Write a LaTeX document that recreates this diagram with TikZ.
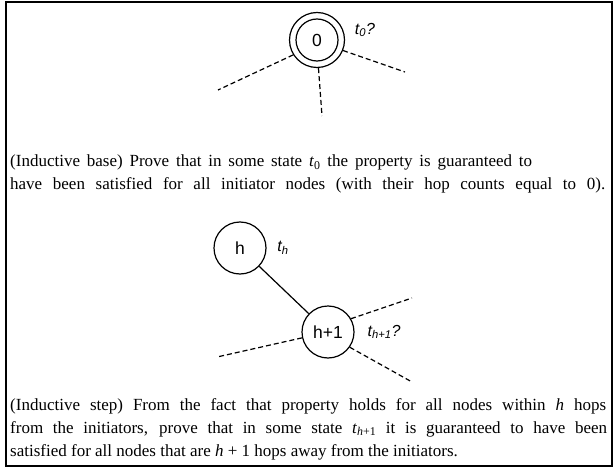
\documentclass[tikz,border=0pt]{standalone}
\usepackage{fontspec}
\setmainfont{Liberation Serif}
\newfontfamily\lsans{Liberation Sans}
\begin{document}
\begin{tikzpicture}[x=1pt,y=-1pt,
  circnode/.style={circle,draw,line width=1.2pt,minimum size=52pt,inner sep=0pt,font=\lsans\fontsize{17.5}{20}\selectfont},
  dashline/.style={dashed,dash pattern=on 5pt off 3pt,line width=1.2pt},
  solidline/.style={line width=1.2pt},
  lbl/.style={font=\lsans\itshape\fontsize{16}{18}\selectfont,inner sep=0pt},
  para/.style={anchor=base west,inner sep=0pt,font=\fontsize{17}{20}\selectfont}]
\useasboundingbox (0,0) rectangle (613,468);
\draw[line width=2pt] (6,2.5) rectangle (611.5,465.5);
% node 0
\node[circnode,minimum size=55pt] (n0) at (317,40) {};
\node[circnode,minimum size=42pt] (n0in) at (n0) {0};
\node[lbl] (t0) at (365,30) {t\textsubscript{0}?};
\coordinate (e1) at (218,90);
\coordinate (e2) at (405,72);
\coordinate (e3) at (322,116);
\draw[dashline] (n0.212) -- (e1);
\draw[dashline] (n0.-22) -- (e2);
\draw[dashline] (n0.273) -- (e3);
% paragraph 1
\node[para] (p1a) at (10,167) {\hbox to 522pt{(Inductive base) Prove that in some state \textit{t}\textsubscript{0} the property is guaranteed to}};
\node[para] (p1b) at (10,189) {\hbox to 595pt{have been satisfied for all initiator nodes (with their hop counts equal to 0).}};
% node h
\node[circnode] (nh) at (240,248) {h};
\node[lbl] (th) at (283,248) {t\textsubscript{h}};
\node[circnode] (nh1) at (328,332) {h+1};
\node[lbl] (th1) at (384,332) {t\textsubscript{h+1}?};
\draw[solidline] (nh) -- (nh1);
\coordinate (f1) at (217,357);
\coordinate (f2) at (412,298);
\coordinate (f3) at (412,382);
\draw[dashline] (nh1) -- (f1);
\draw[dashline] (nh1.30) -- (f2);
\draw[dashline] (nh1.-35) -- (f3);
% paragraph 2
\node[para] (p2a) at (10,410) {\hbox to 596pt{(Inductive step) From the fact that property holds for all nodes within \textit{h} hops}};
\node[para] (p2b) at (10,433) {\hbox to 597pt{from the initiators, prove that in some state \textit{t}\textsubscript{\textit{h}+1} it is guaranteed to have been}};
\node[para] (p2c) at (10,456) {satisfied for all nodes that are \textit{h} + 1 hops away from the initiators.};
\end{tikzpicture}
\end{document}
